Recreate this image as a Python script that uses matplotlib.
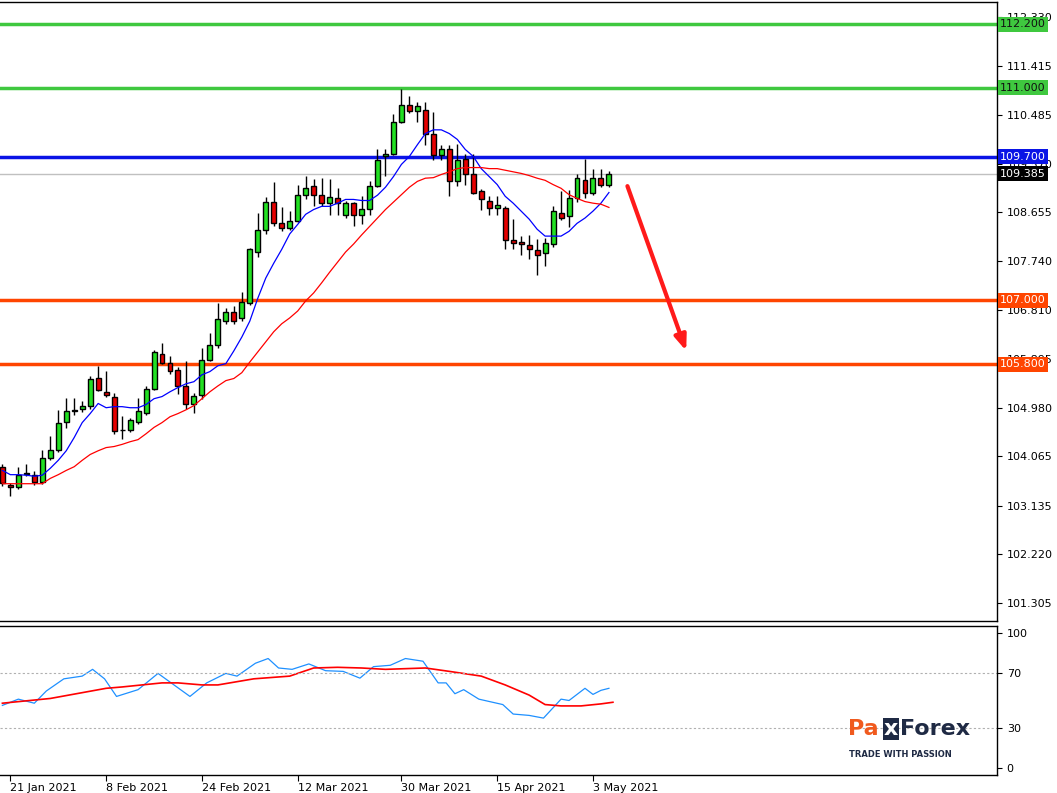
import matplotlib
matplotlib.use("Agg")
import matplotlib.pyplot as plt
import numpy as np

# daily candles, 20 Jan 2021 .. 5 May 2021
opens = [103.86, 103.52, 103.48, 103.74, 103.72, 103.59, 104.04, 104.19, 104.72, 104.91,
         104.96, 105.02, 105.54, 105.28, 105.19, 104.57, 104.56, 104.72, 104.89, 105.34,
         106.00, 105.83, 105.69, 105.39, 105.05, 105.22, 105.88, 106.16, 106.61, 106.78,
         106.67, 106.95, 107.91, 108.32, 108.86, 108.45, 108.36, 108.49, 108.99, 109.15,
         108.98, 108.84, 108.92, 108.60, 108.83, 108.60, 108.72, 109.16, 109.71, 109.75,
         110.35, 110.68, 110.57, 110.59, 110.14, 109.73, 109.84, 109.24, 109.67, 109.37,
         109.05, 108.88, 108.73, 108.73, 108.13, 108.09, 108.04, 107.94, 107.89, 108.06,
         108.64, 108.58, 108.92, 109.26, 109.02, 109.30, 109.18]
highs = [103.92, 103.56, 103.87, 103.93, 103.78, 104.19, 104.45, 104.94, 105.17, 105.17,
         105.10, 105.58, 105.77, 105.67, 105.25, 104.83, 104.78, 105.17, 105.38, 106.07,
         106.20, 105.96, 105.75, 105.86, 105.26, 106.11, 106.39, 106.95, 106.85, 106.90,
         107.16, 107.98, 108.64, 108.94, 109.22, 108.75, 108.68, 109.17, 109.35, 109.28,
         109.31, 109.29, 109.11, 108.87, 108.86, 108.96, 109.24, 109.84, 109.84, 110.50,
         110.97, 110.85, 110.74, 110.74, 110.55, 109.93, 109.93, 109.95, 109.76, 109.76,
         109.10, 108.96, 108.96, 108.78, 108.54, 108.21, 108.23, 108.15, 108.17, 108.77,
         109.05, 109.07, 109.37, 109.67, 109.48, 109.48, 109.43]
lows = [103.50, 103.31, 103.45, 103.70, 103.52, 103.55, 104.00, 104.15, 104.59, 104.85,
        104.90, 104.96, 105.30, 105.18, 104.49, 104.40, 104.52, 104.68, 104.85, 105.32,
        105.80, 105.62, 105.24, 104.96, 104.89, 105.15, 105.85, 106.10, 106.55, 106.55,
        106.62, 106.92, 107.82, 108.25, 108.40, 108.30, 108.33, 108.47, 108.90, 108.77,
        108.77, 108.60, 108.60, 108.55, 108.40, 108.43, 108.60, 109.13, 109.35, 109.73,
        110.33, 110.52, 110.35, 109.93, 109.65, 109.65, 108.97, 109.16, 109.18, 109.01,
        108.70, 108.60, 108.60, 107.96, 107.96, 107.85, 107.78, 107.48, 107.65, 108.00,
        108.51, 108.39, 108.85, 108.92, 108.99, 109.13, 109.13]
closes = [103.56, 103.48, 103.72, 103.75, 103.59, 104.04, 104.19, 104.70, 104.91, 104.94,
          105.02, 105.52, 105.32, 105.22, 104.55, 104.56, 104.74, 104.91, 105.34, 106.03,
          105.83, 105.67, 105.39, 105.05, 105.20, 105.88, 106.16, 106.65, 106.78, 106.61,
          106.97, 107.96, 108.32, 108.86, 108.45, 108.36, 108.49, 108.99, 109.11, 108.99,
          108.83, 108.94, 108.84, 108.83, 108.60, 108.72, 109.16, 109.65, 109.76, 110.35,
          110.68, 110.57, 110.65, 110.14, 109.73, 109.84, 109.24, 109.65, 109.37, 109.03,
          108.90, 108.73, 108.79, 108.13, 108.08, 108.07, 107.96, 107.85, 108.08, 108.68,
          108.56, 108.92, 109.30, 109.02, 109.30, 109.18, 109.37]

ma_fast = [103.80, 103.72, 103.72, 103.71, 103.69, 103.71, 103.84, 103.99, 104.17, 104.42,
           104.70, 104.87, 105.06, 104.98, 105.00, 105.00, 104.98, 104.98, 105.04, 105.15,
           105.19, 105.28, 105.36, 105.43, 105.47, 105.60, 105.66, 105.77, 105.81, 106.05,
           106.31, 106.61, 107.04, 107.42, 107.70, 107.96, 108.25, 108.43, 108.62, 108.71,
           108.77, 108.77, 108.83, 108.90, 108.90, 108.88, 108.88, 108.98, 109.13, 109.33,
           109.56, 109.71, 109.93, 110.14, 110.21, 110.21, 110.14, 110.03, 109.84, 109.71,
           109.48, 109.33, 109.18, 108.96, 108.83, 108.68, 108.53, 108.34, 108.21, 108.21,
           108.21, 108.30, 108.45, 108.55, 108.68, 108.83, 109.03]
ma_slow = [103.55, 103.55, 103.55, 103.55, 103.55, 103.55, 103.65, 103.72, 103.80, 103.87,
           103.99, 104.10, 104.17, 104.23, 104.25, 104.29, 104.34, 104.38, 104.49, 104.61,
           104.70, 104.81, 104.87, 104.94, 105.02, 105.15, 105.28, 105.39, 105.49, 105.53,
           105.64, 105.84, 106.03, 106.22, 106.41, 106.56, 106.67, 106.80, 106.99, 107.14,
           107.33, 107.53, 107.72, 107.91, 108.06, 108.23, 108.39, 108.55, 108.71, 108.85,
           108.99, 109.13, 109.24, 109.30, 109.31, 109.37, 109.42, 109.48, 109.50, 109.50,
           109.50, 109.48, 109.48, 109.45, 109.42, 109.39, 109.35, 109.30, 109.26, 109.18,
           109.11, 108.99, 108.92, 108.86, 108.83, 108.81, 108.75]

# oscillator (lower panel)
osc_idx = [0, 2, 4, 5.5, 7.7, 10, 11.3, 12.8, 14.3, 17, 19.5, 23.5, 25.6, 28, 29.4, 31.7,
           33.3, 34.6, 36.3, 38.4, 40.5, 42.7, 44.8, 46.5, 48.6, 50.5, 52.7, 54.6, 55.6,
           56.7, 57.8, 59.7, 62.7, 64, 66, 67.8, 70, 71, 73, 74, 75, 76]
osc_main = [46.4, 51, 48, 57, 66, 68, 73, 66, 53, 58, 70, 53, 63, 70, 68, 77.5, 81, 74, 73,
            77, 72, 71.5, 66.5, 75, 76, 81, 79, 63, 63, 55, 58, 51, 47, 40, 39, 37, 51, 50,
            59, 54.5, 57.5, 59]
sig_idx = [0, 6, 13, 15, 20, 22, 25, 27, 31.5, 36, 39, 42, 45, 48, 53, 56, 60, 63, 66, 68,
           70, 72.5, 75, 76.5]
osc_signal = [48, 51.5, 59, 60, 63, 63, 61.5, 61.5, 66, 68, 74, 74.5, 74, 73, 74, 71.5, 68,
              61.5, 54, 47, 46, 46, 47.5, 48.7]

levels = [(112.2, "#3fc83f"), (111.0, "#3fc83f"), (109.7, "#0a14e6"),
          (107.0, "#ff4500"), (105.8, "#ff4500")]
price_ticks = [112.330, 111.415, 110.485, 109.570, 108.655, 107.740, 106.810, 105.895,
               104.980, 104.065, 103.135, 102.220, 101.305]
last_price = 109.385
date_pos = [1, 13, 25, 37, 50, 62, 74]
date_labels = ["21 Jan 2021", "8 Feb 2021", "24 Feb 2021", "12 Mar 2021",
               "30 Mar 2021", "15 Apr 2021", "3 May 2021"]

W, H = 1057, 793
fig = plt.figure(figsize=(W / 100, H / 100), dpi=100)
ax = fig.add_axes([0.0, (H - 621) / H, 997 / W, 619 / H])
axo = fig.add_axes([0.0, (H - 775) / H, 997 / W, 149 / H])
xmax = 997 / 8.0
fs = 8

# candles
for i, (o, h, l, c) in enumerate(zip(opens, highs, lows, closes)):
    col = "#22e022" if c >= o else "#e60000"
    ax.vlines(i, l, h, color="black", lw=1, zorder=3)
    ax.bar(i, abs(c - o) if abs(c - o) > 0.01 else 0.01, bottom=min(o, c), width=0.62,
           color=col, edgecolor="black", lw=1, zorder=4)
xs = np.arange(len(closes))
ax.plot(xs, ma_fast, color="#0000ff", lw=0.9, zorder=5)
ax.plot(xs, ma_slow, color="#ff0000", lw=0.9, zorder=5)

ax.axhline(last_price, color="#c0c0c0", lw=1, zorder=1)
for lv, col in levels:
    ax.axhline(lv, color=col, lw=2.5, zorder=2)

ax.annotate("", xy=(85.8, 106.0), xytext=(78.2, 109.2),
            arrowprops=dict(arrowstyle="-|>,head_length=0.9,head_width=0.35",
                            color="#ff1a1a", lw=3))

ax.set_xlim(-0.3, xmax)
ax.set_ylim(112.616 - 621 * 0.01876, 112.616)
ax.yaxis.tick_right()
ax.set_yticks(price_ticks)
ax.set_yticklabels([f"{t:.3f}" for t in price_ticks], fontsize=fs)
ax.set_xticks([])

# price boxes drawn on the figure so they cover the tick labels
ytr = ax.get_yaxis_transform()
for lv, col in levels:
    fig.text(1.003, lv, f"{lv:.3f}", transform=ytr, fontsize=fs,
             va="center", ha="left", color="white" if col != "#3fc83f" else "#111111",
             bbox=dict(boxstyle="square,pad=0.22", fc=col, ec="none"))
fig.text(1.003, last_price, f"{last_price:.3f}", transform=ytr,
         fontsize=fs, va="center", ha="left", color="white",
         bbox=dict(boxstyle="square,pad=0.22", fc="black", ec="none"))

# oscillator panel
axo.plot(osc_idx, osc_main, color="#1e90ff", lw=0.9)
axo.plot(sig_idx, osc_signal, color="#ff0000", lw=1.2)
for lv in (70, 30):
    axo.axhline(lv, color="#b0b0b0", lw=0.8, ls=(0, (2, 2)))
axo.set_xlim(-0.3, xmax)
axo.set_ylim(-5, 105)
axo.yaxis.tick_right()
axo.set_yticks([100, 70, 30, 0])
axo.set_yticklabels(["100", "70", "30", "0"], fontsize=fs)
axo.set_xticks(date_pos)
axo.set_xticklabels(date_labels, fontsize=fs, ha="left")
axo.tick_params(axis="x", length=4, pad=2)

for a in (ax, axo):
    for s in a.spines.values():
        s.set_color("black")
        s.set_linewidth(1)
    a.spines["left"].set_visible(False)

# watermark
fig.text(0.802, 0.073, "Pa", fontsize=16, color="#f05a1e", fontweight="bold")
fig.text(0.836, 0.073, "x", fontsize=16, color="white", fontweight="bold",
         bbox=dict(boxstyle="square,pad=0.05", fc="#1f2a44", ec="none"))
fig.text(0.851, 0.073, "Forex", fontsize=16, color="#1f2a44", fontweight="bold")
fig.text(0.803, 0.045, "TRADE WITH PASSION", fontsize=6, color="#1f2a44",
         fontweight="bold")

fig.savefig("out.png", dpi=100)
